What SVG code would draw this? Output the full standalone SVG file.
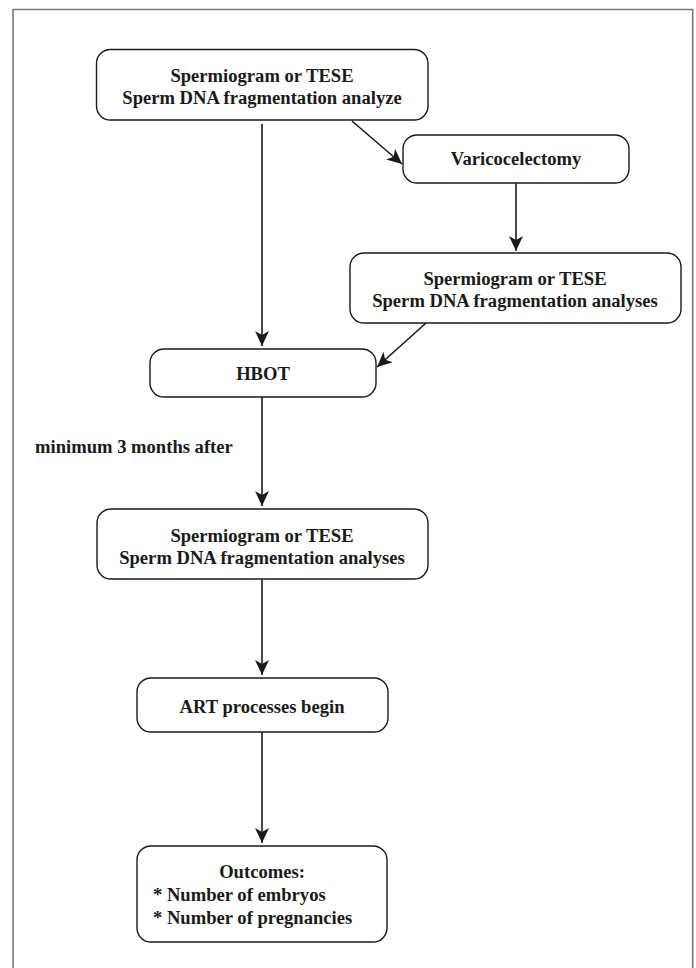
<svg xmlns="http://www.w3.org/2000/svg" width="696" height="968" viewBox="0 0 696 968">
<defs>
<marker id="ah" markerWidth="16" markerHeight="14" viewBox="0 0 16 14" refX="15" refY="7" orient="auto" markerUnits="userSpaceOnUse">
<path d="M0,0 L15,7 L0,14 L4,7 Z" fill="#1a1a1a"/>
</marker>
<style>
.box{fill:#fff;stroke:#1a1a1a;stroke-width:1.4}
.t{font-family:"Liberation Serif","Times New Roman",serif;font-weight:bold;font-size:18.6px;fill:#1a1a1a;text-anchor:middle}
.l{text-anchor:start}
.c{fill:none;stroke:#1a1a1a;stroke-width:1.6;marker-end:url(#ah)}
</style>
</defs>
<rect width="696" height="968" fill="#fff"/>
<path d="M13,975 V9.5 H692.7 V975" fill="none" stroke="#777" stroke-width="1.6"/>
<g id="connectors">
<path class="c" d="M262,124 V346"/>
<path class="c" d="M352,121 L402,164"/>
<path class="c" d="M516,183 V251"/>
<path class="c" d="M426,323 L377,367"/>
<path class="c" d="M262,397 V506"/>
<path class="c" d="M262,579 V675"/>
<path class="c" d="M262,732 V843"/>
</g>
<g id="n1">
<rect class="box" x="96.5" y="49.5" width="331.5" height="70.5" rx="14"/>
<text class="t" x="262" y="82">Spermiogram or TESE</text>
<text class="t" x="262" y="104">Sperm DNA fragmentation analyze</text>
</g>
<g id="n2">
<rect class="box" x="403" y="135" width="226" height="48" rx="14"/>
<text class="t" x="516" y="165">Varicocelectomy</text>
</g>
<g id="n3">
<rect class="box" x="350" y="253" width="331" height="70" rx="14"/>
<text class="t" x="515" y="285">Spermiogram or TESE</text>
<text class="t" x="515" y="307">Sperm DNA fragmentation analyses</text>
</g>
<g id="n4">
<rect class="box" x="150" y="349" width="226" height="48" rx="14"/>
<text class="t" x="263" y="380">HBOT</text>
</g>
<text class="t l" x="35" y="453">minimum 3 months after</text>
<g id="n5">
<rect class="box" x="97" y="509" width="331" height="70" rx="14"/>
<text class="t" x="262" y="542">Spermiogram or TESE</text>
<text class="t" x="262" y="564">Sperm DNA fragmentation analyses</text>
</g>
<g id="n6">
<rect class="box" x="137" y="678" width="251" height="54" rx="14"/>
<text class="t" x="262" y="713">ART processes begin</text>
</g>
<g id="n7">
<rect class="box" x="137" y="846" width="250" height="96" rx="14"/>
<text class="t" x="262" y="878">Outcomes:</text>
<text class="t l" x="153" y="901">* Number of embryos</text>
<text class="t l" x="153" y="924">* Number of pregnancies</text>
</g>
</svg>
